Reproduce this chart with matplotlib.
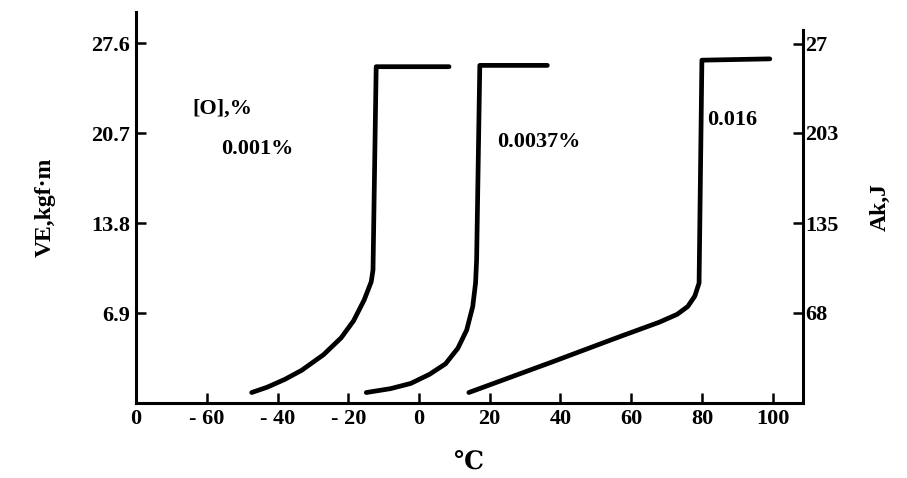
import matplotlib
matplotlib.use("Agg")
import matplotlib.pyplot as plt

# data (temperature in C, impact energy in kgf.m)
t_001 = [-47.3, -43.0, -38.0, -33.2, -27.0, -22.0, -18.5, -15.5, -13.5, -13.0, -12.1, 8.5]
v_001 = [0.8, 1.2, 1.8, 2.5, 3.7, 5.0, 6.3, 7.9, 9.3, 10.2, 25.8, 25.8]
t_0037 = [-14.9, -8.0, -2.3, 3.0, 7.5, 11.0, 13.5, 15.2, 16.0, 16.3, 17.2, 36.3]
v_0037 = [0.8, 1.1, 1.5, 2.2, 3.0, 4.2, 5.6, 7.4, 9.2, 11.0, 25.9, 25.9]
t_016 = [14.1, 37.2, 56.9, 68.0, 73.0, 76.0, 78.0, 79.2, 80.0, 99.2]
v_016 = [0.8, 3.1, 5.1, 6.2, 6.8, 7.4, 8.2, 9.2, 26.3, 26.4]

x_ticks = [-80, -60, -40, -20, 0, 20, 40, 60, 80, 100]
x_labels = ["0", "- 60", "- 40", "- 20", "0", "20", "40", "60", "80", "100"]
y_ticks = [6.9, 13.8, 20.7, 27.6]
y_labels = ["6.9", "13.8", "20.7", "27.6"]
j_ticks = [68, 135, 203, 270]
j_labels = ["68", "135", "203", "27"]

FONT = "Liberation Serif"
plt.rcParams["font.family"] = [FONT, "DejaVu Sans"]
plt.rcParams["font.weight"] = "bold"

fig = plt.figure(figsize=(9.07, 4.78), dpi=100)
ax = fig.add_axes([0.15, 0.157, 0.735, 0.818])

for t, v in [(t_001, v_001), (t_0037, v_0037), (t_016, v_016)]:
    ax.plot(t, v, "k", lw=3.4, solid_capstyle="round", solid_joinstyle="round")

ax.set_xlim(-80, 108.5)
ax.set_ylim(0, 30)
ax.spines["top"].set_visible(False)
for s in ["left", "bottom", "right"]:
    ax.spines[s].set_linewidth(2.2)
ax.spines["right"].set_bounds(0, 28.6)

ax.set_xticks(x_ticks)
ax.set_xticklabels(x_labels, fontsize=16, fontweight="bold")
ax.set_yticks(y_ticks)
ax.set_yticklabels(y_labels, fontsize=16, fontweight="bold")
ax.tick_params(direction="in", length=7, width=1.8, pad=4)

ax2 = ax.twinx()
ax2.set_ylim(0, 30 * 9.8)
for s in ["top", "left", "bottom", "right"]:
    ax2.spines[s].set_visible(False)
ax2.set_yticks(j_ticks)
ax2.set_yticklabels(j_labels, fontsize=16, fontweight="bold")
ax2.tick_params(direction="in", length=7, width=1.8, pad=2)

ax.set_ylabel("VE,kgf·m", fontsize=17, fontweight="bold", labelpad=26)
ax2.set_ylabel("Ak,J", fontsize=17, fontweight="bold", labelpad=22)
ax.set_xlabel("℃", fontsize=18, fontweight="bold", family=["DejaVu Serif"],
              labelpad=16)

ax.text(-64, 22.2, "[O],%", fontsize=16, fontweight="bold")
ax.text(-56, 19.1, "0.001%", fontsize=16, fontweight="bold")
ax.text(22, 19.6, "0.0037%", fontsize=16, fontweight="bold")
ax.text(81.5, 21.3, "0.016", fontsize=16, fontweight="bold")

fig.savefig("out.png", dpi=100)
